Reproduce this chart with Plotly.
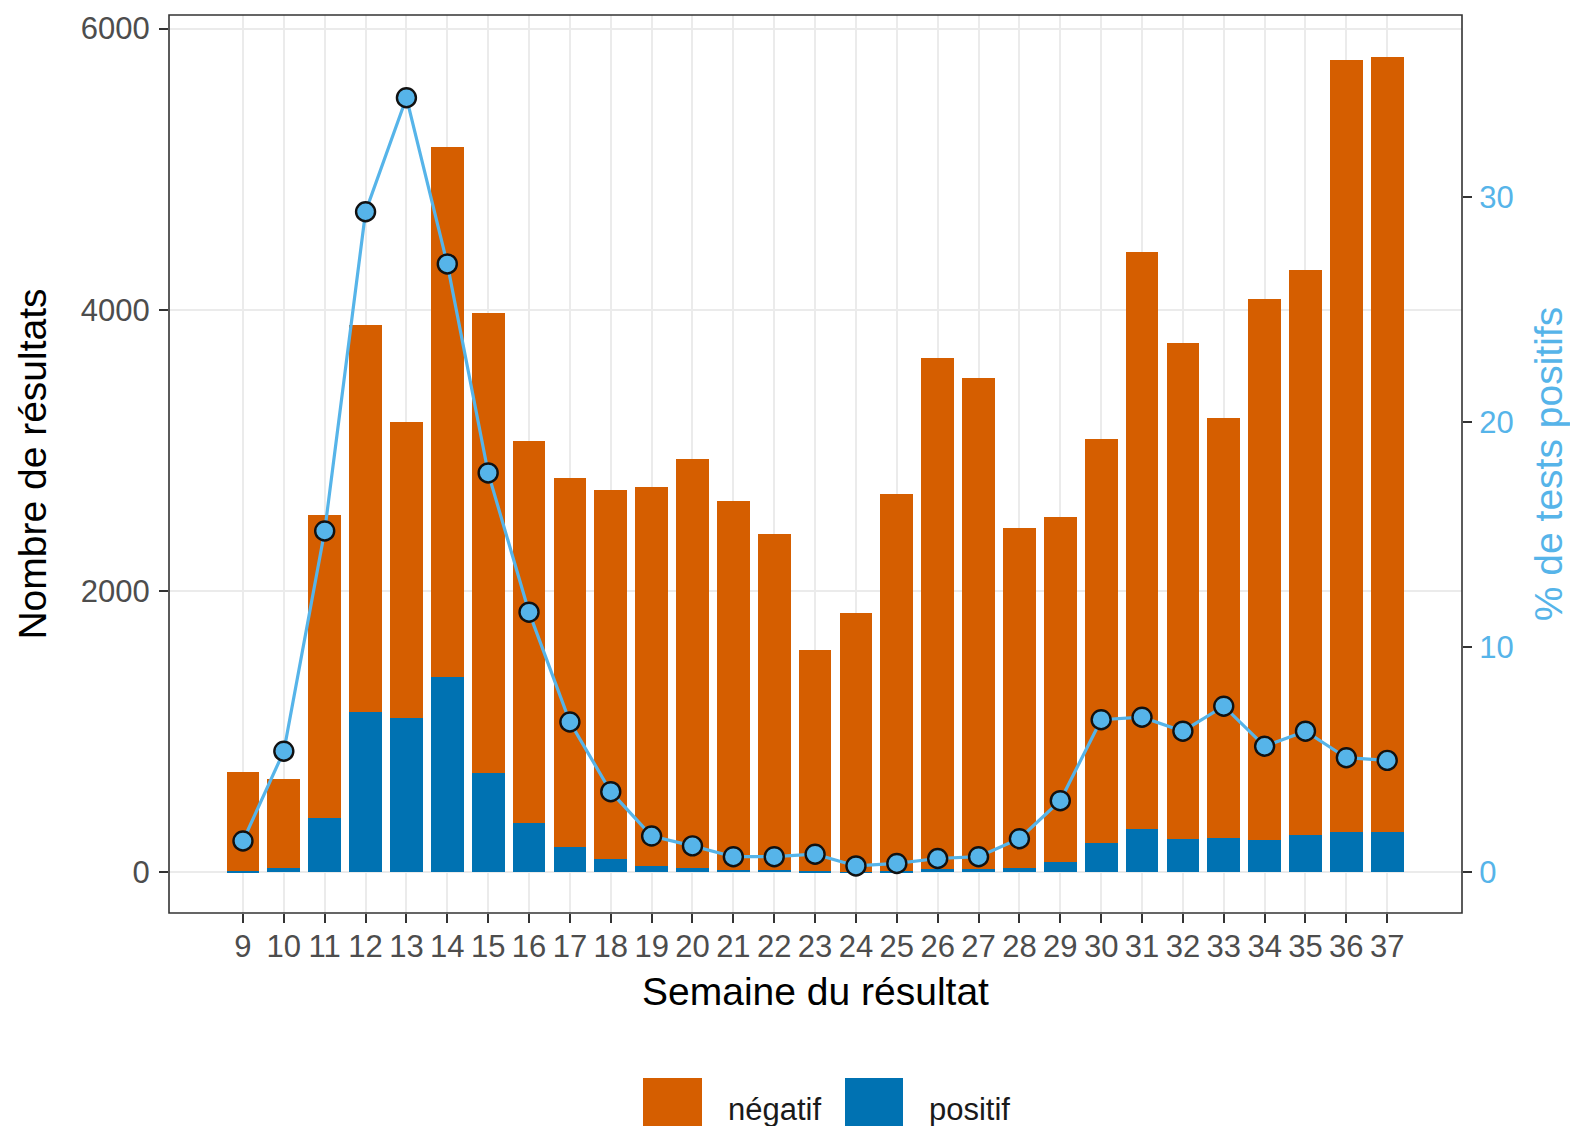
import plotly.graph_objects as go

# ---------------- data ----------------
weeks = [9, 10, 11, 12, 13, 14, 15, 16, 17, 18, 19, 20, 21, 22, 23, 24, 25, 26,
         27, 28, 29, 30, 31, 32, 33, 34, 35, 36, 37]
week_labels = [str(w) for w in weeks]
positif = [8, 31, 383, 1140, 1097, 1392, 707, 352, 182, 92, 45, 30, 16, 16, 12, 5, 10, 22,
           24, 31, 76, 206, 305, 234, 241, 227, 265, 288, 288]
negatif = [703, 629, 2156, 2754, 2104, 3764, 3274, 2712, 2622, 2629, 2695, 2911, 2622, 2388,
           1570, 1841, 2683, 3635, 3491, 2414, 2454, 2874, 4109, 3530, 2988, 3853, 4021, 5490, 5509]
pct_positifs = [1.39, 5.38, 15.17, 29.36, 34.43, 27.04, 17.75, 11.56, 6.68, 3.58, 1.61, 1.17,
                0.69, 0.69, 0.80, 0.28, 0.39, 0.61, 0.69, 1.49, 3.18, 6.78, 6.89, 6.27, 7.38,
                5.60, 6.27, 5.09, 4.97]
y_ticks = [0, 2000, 4000, 6000]
y2_ticks = [0, 10, 20, 30]
legend_labels = ["négatif", "positif"]

# ---------------- style ----------------
C_NEG = "#D55E00"
C_POS = "#0072B2"
C_LINE = "#56B4E9"
FONT = "Liberation Sans, Arial, sans-serif"
OFF = 8                      # default page body margin
W, H = 1578 - 2 * OFF, 1134 - 2 * OFF
# plot area in page pixels
L, R, T, B = 169, 1462, 15, 913
SCALE = 160.0  # secondary axis: count = pct * 160
y_range = [-290, 6097]

fig = go.Figure()
fig.add_trace(go.Bar(x=weeks, y=positif, name="positif", marker=dict(color=C_POS, line=dict(width=0)),
                     width=0.8, showlegend=False))
fig.add_trace(go.Bar(x=weeks, y=negatif, name="négatif", marker=dict(color=C_NEG, line=dict(width=0)),
                     width=0.8, showlegend=False))
fig.add_trace(go.Scatter(x=weeks, y=pct_positifs, yaxis="y2", mode="lines+markers",
                         line=dict(color=C_LINE, width=3.2),
                         marker=dict(size=19, color=C_LINE, line=dict(color="#111111", width=2.4)),
                         showlegend=False, name="% positifs"))

fig.update_layout(
    width=W, height=H,
    barmode="stack", bargap=0.2,
    plot_bgcolor="white", paper_bgcolor="white",
    margin=dict(l=L - OFF, r=(W + OFF) - R, t=T - OFF, b=(H + OFF) - B, autoexpand=False),
    font=dict(family=FONT, color="#000000"),
    showlegend=False,
    xaxis=dict(
        range=[7.19, 38.83], tickvals=weeks, ticktext=week_labels,
        showgrid=True, gridcolor="#EBEBEB", gridwidth=1.6,
        ticks="outside", ticklen=9, tickwidth=1.6, tickcolor="#333333",
        tickfont=dict(family=FONT, size=31, color="#4D4D4D"),
        ticklabelstandoff=-3,
        zeroline=False, showline=False,
        title=dict(text="Semaine du résultat", font=dict(family=FONT, size=39, color="#000000"), standoff=14),
    ),
    yaxis=dict(
        range=y_range, tickvals=y_ticks,
        showgrid=True, gridcolor="#EBEBEB", gridwidth=1.6,
        ticks="outside", ticklen=9, tickwidth=1.6, tickcolor="#333333",
        tickfont=dict(family=FONT, size=31, color="#4D4D4D"),
        ticklabelstandoff=3,
        zeroline=False, showline=False,
        title=dict(text="Nombre de résultats", font=dict(family=FONT, size=39, color="#000000"), standoff=22),
    ),
    yaxis2=dict(
        overlaying="y", side="right",
        range=[y_range[0] / SCALE, y_range[1] / SCALE], tickvals=y2_ticks,
        showgrid=False, zeroline=False, showline=False,
        ticks="outside", ticklen=9, tickwidth=1.6, tickcolor="#333333",
        tickfont=dict(family=FONT, size=31, color=C_LINE),
        ticklabelstandoff=1,
        title=dict(text="% de tests positifs", font=dict(family=FONT, size=39, color=C_LINE), standoff=31),
    ),
)

# panel border
fig.add_shape(type="rect", xref="paper", yref="paper", x0=0, x1=1, y0=0, y1=1,
              line=dict(color="#333333", width=1.6), fillcolor="rgba(0,0,0,0)", layer="above")

# manual legend (large ggplot-style keys), positions given in page pixels
def px_x(px):
    return (px - L) / (R - L)

def px_y(py):
    return (B - py) / (B - T)

keys = [(643, 702, 726, C_NEG), (845, 903, 927, C_POS)]
for (x0, x1, tx, col), lab in zip(keys, legend_labels):
    fig.add_shape(type="rect", xref="paper", yref="paper",
                  x0=px_x(x0), x1=px_x(x1), y0=px_y(1140), y1=px_y(1078),
                  line=dict(width=0), fillcolor=col)
    fig.add_annotation(xref="paper", yref="paper", x=px_x(tx), y=px_y(1109),
                       text=lab, showarrow=False, xanchor="left", yanchor="middle",
                       font=dict(family=FONT, size=31, color="#1A1A1A"))

fig.write_html("out.html")
